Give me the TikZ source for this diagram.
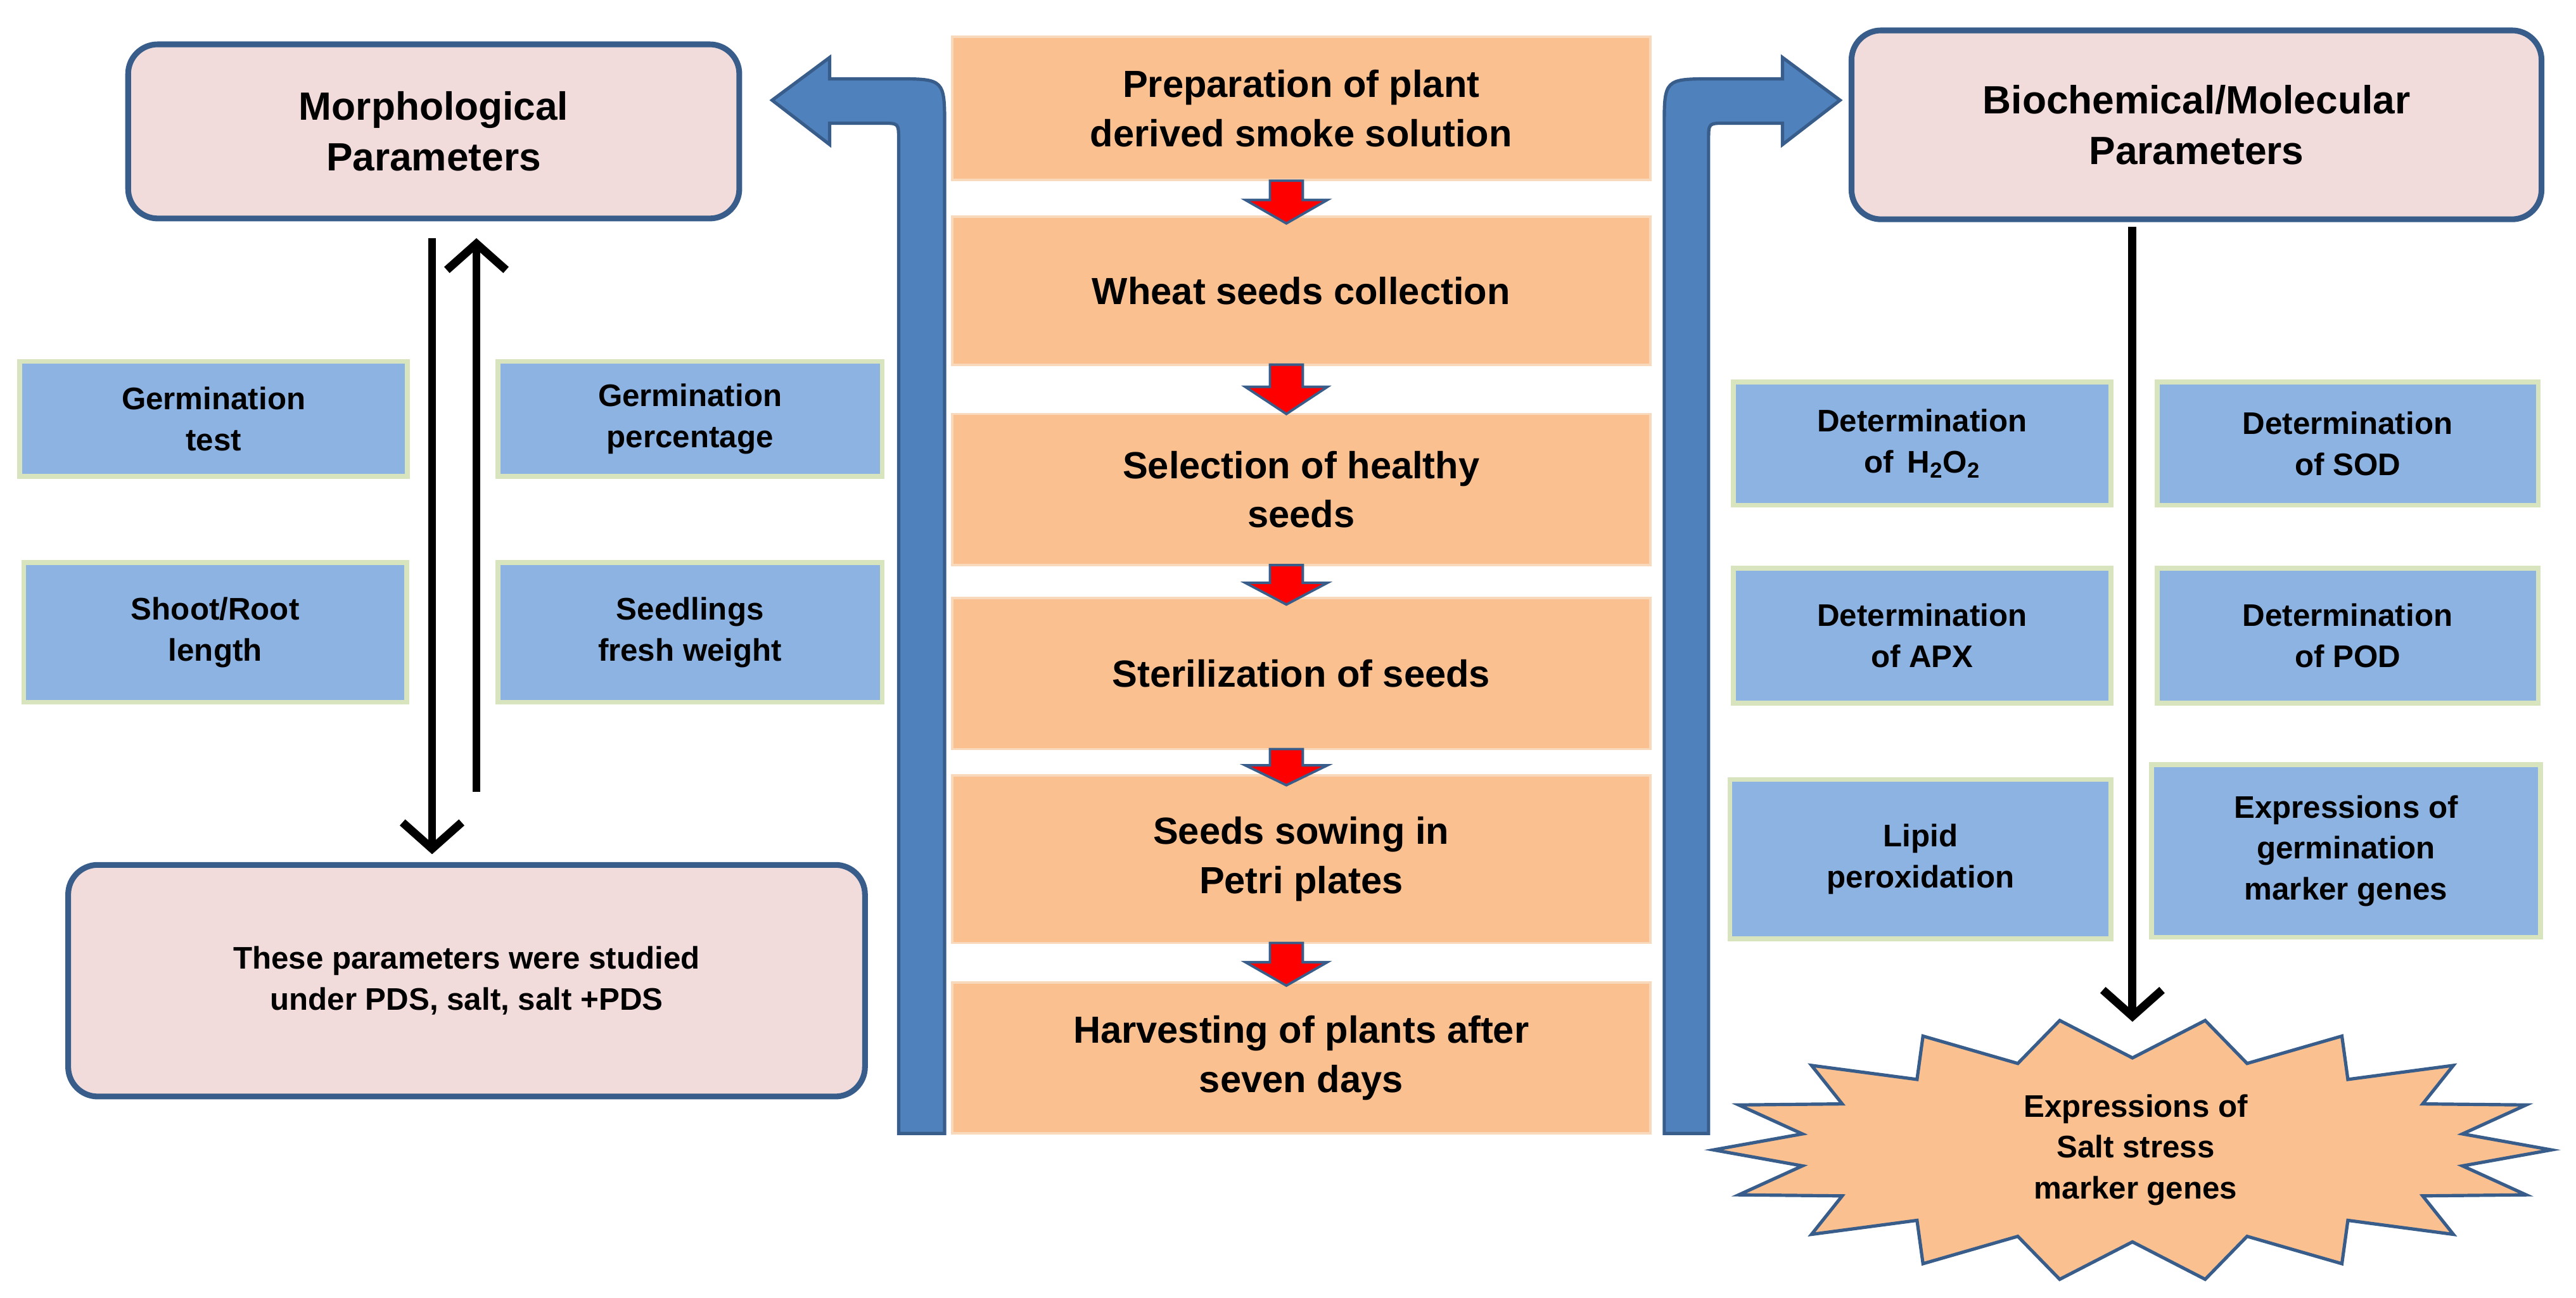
\documentclass[tikz,border=0pt]{standalone}
\usepackage{fontspec}
\setmainfont{Liberation Sans}
\usetikzlibrary{arrows.meta}
\definecolor{pinkf}{HTML}{F2DCDB}
\definecolor{bord}{HTML}{385D8A}
\definecolor{orf}{HTML}{FAC090}
\definecolor{orb}{HTML}{F9D9BB}
\definecolor{bluef}{HTML}{8DB3E2}
\definecolor{greenb}{HTML}{D7E4BD}
\definecolor{barf}{HTML}{4F81BD}
\begin{document}
\begin{tikzpicture}[x=1pt,y=-1pt,
 head/.style={draw=bord,line width=3.5,fill=pinkf,rounded corners=18,align=center,font=\fontsize{24}{31}\selectfont\bfseries},
 stepbox/.style={draw=orb,line width=1.5,fill=orf,align=center,minimum width=425,font=\fontsize{23}{30}\selectfont\bfseries},
 small/.style={draw=greenb,line width=3,fill=bluef,align=center,font=\fontsize{19}{25}\selectfont\bfseries},
 down/.style={draw=bord,fill=red,line width=1.5},
 blk/.style={line width=5,-{Straight Barb[length=16,width=36,line width=5]}},
 bar/.style={draw=bord,fill=barf,line width=2}]
\useasboundingbox (0,0) rectangle (1568,790);
% big bent arrows
\draw[bar] (547,690) -- (547,85) .. controls (547,75) .. (537,75) -- (505,75) -- (505,88) -- (470,61) -- (505,35) -- (505,48) -- (545,48) .. controls (575,48) .. (575,78) -- (575,690) -- cycle;
\draw[bar] (1040,690) -- (1040,85) .. controls (1040,75) .. (1050,75) -- (1085,75) -- (1085,88) -- (1120,61) -- (1085,35) -- (1085,48) -- (1043,48) .. controls (1013,48) .. (1013,78) -- (1013,690) -- cycle;
% headers
\node[head,minimum width=372,minimum height=106] (morph) at (264,80) {Morphological\\Parameters};
\node[head,minimum width=420,minimum height=115] (bio) at (1337,76) {Biochemical/Molecular\\Parameters};
% center steps
\node[stepbox,minimum height=87] (s1) at (792,66) {Preparation of plant\\derived smoke solution};
\node[stepbox,minimum height=90] (s2) at (792,177) {Wheat seeds collection};
\node[stepbox,minimum height=92] (s3) at (792,298) {Selection of healthy\\seeds};
\node[stepbox,minimum height=92] (s4) at (792,410) {Sterilization of seeds};
\node[stepbox,minimum height=102] (s5) at (792,523) {Seeds sowing in\\Petri plates};
\node[stepbox,minimum height=92] (s6) at (792,644) {Harvesting of plants after\\seven days};
% small down arrows
\foreach \a/\b in {110/136,222/252,344/368,456/478,574/600}{
 \draw[down] (773,\a) -- (793,\a) -- (793,{\a+0.45*(\b-\a)}) -- (808,{\a+0.45*(\b-\a)}) -- (783,\b) -- (758,{\a+0.45*(\b-\a)}) -- (773,{\a+0.45*(\b-\a)}) -- cycle;}
% left small boxes
\node[small,minimum width=236,minimum height=70] (gt) at (130,255) {Germination\\test};
\node[small,minimum width=234,minimum height=70] (gp) at (420,255) {Germination\\percentage};
\node[small,minimum width=233,minimum height=85] (sr) at (131,385) {Shoot/Root\\length};
\node[small,minimum width=234,minimum height=85] (sf) at (420,385) {Seedlings\\fresh weight};
\node[head,minimum width=485,minimum height=141,font=\fontsize{19}{25}\selectfont\bfseries] (note) at (284,597) {These parameters were studied\\under PDS, salt, salt +PDS};
\coordinate (d1) at (263,145); \coordinate (d2) at (263,520);
\coordinate (u1) at (290,482); \coordinate (u2) at (290,145);
\draw[blk] (d1) -- (d2);
\draw[blk] (u1) -- (u2);
% right small boxes
\node[small,minimum width=230,minimum height=75] (h2o2) at (1170,270) {Determination\\of\, H\textsubscript{2}O\textsubscript{2}};
\node[small,minimum width=232,minimum height=75] (sod) at (1429,270) {Determination\\of SOD};
\node[small,minimum width=230,minimum height=82] (apx) at (1170,387) {Determination\\of APX};
\node[small,minimum width=232,minimum height=82] (pod) at (1429,387) {Determination\\of POD};
\node[small,minimum width=232,minimum height=97] (lip) at (1169,523) {Lipid\\peroxidation};
\node[small,minimum width=237,minimum height=105] (expg) at (1428,518) {Expressions of\\germination\\marker genes};
% starburst
\draw[bar,fill=orf] plot[samples=37,domain=0:36] ({1298+255*(1-0.2*mod(round(\x),2))*cos(10*\x)}, {700+80*(1-0.3*mod(round(\x),2))*sin(10*\x)}) -- cycle;
\node[align=center,font=\fontsize{19}{25}\selectfont\bfseries] (star) at (1300,700) {Expressions of\\Salt stress\\marker genes};
\coordinate (r1) at (1298,138);
\draw[blk] (r1) -- (1298,622);
\end{tikzpicture}
\end{document}
